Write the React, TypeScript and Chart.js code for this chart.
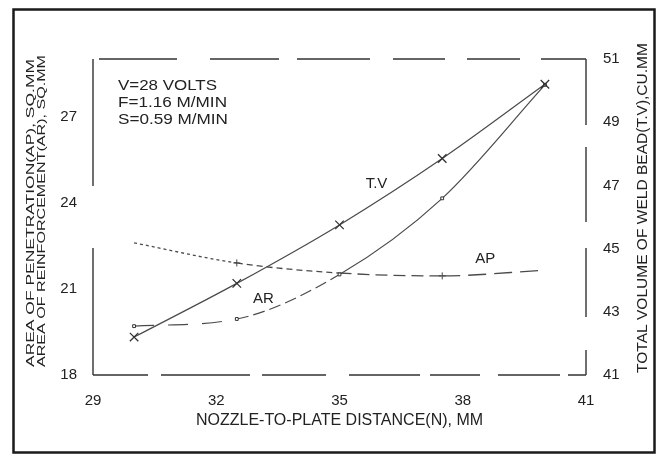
import React, { useEffect, useRef } from 'react';
import { Chart, registerables } from 'chart.js';
Chart.register(...registerables);

// ---- data ----
const distances = [30, 32.5, 35, 37.5, 40];
const tvValues = [42.2, 43.9, 45.75, 47.85, 50.2];
const arValues = [19.7, 19.95, 21.5, 24.15, 28.1];
const apValues = [22.6, 21.9, 21.55, 21.45, 21.65];
const xTicks = [29, 32, 35, 38, 41];
const leftTicks = [18, 21, 24, 27];
const rightTicks = [41, 43, 45, 47, 49, 51];
const conditionLines = ['V=28 VOLTS', 'F=1.16 M/MIN', 'S=0.59 M/MIN'];
const leftTitleLines = ['AREA OF PENETRATION(AP), SQ.MM', 'AREA OF REINFORCEMENT(AR), SQ.MM'];
const rightTitle = 'TOTAL VOLUME OF WELD BEAD(T.V),CU.MM';
const xTitle = 'NOZZLE-TO-PLATE DISTANCE(N), MM';
const curveLabels = [
  { text: 'T.V', x: 35.9, y: 47.05, axis: 'y1' },
  { text: 'AR', x: 33.15, y: 20.65, axis: 'y' },
  { text: 'AP', x: 38.55, y: 22.05, axis: 'y' },
];

const FONT = '"Liberation Sans", Arial, Helvetica, sans-serif';
const INK = '#222';
const LINE = '#4a4a4a';

function drawFit(ctx: CanvasRenderingContext2D, text: string, cx: number, cy: number, len: number, px: number, rot: number, align: CanvasTextAlign = 'center') {
  ctx.save();
  ctx.translate(cx, cy);
  ctx.rotate(rot);
  ctx.font = `${px}px ${FONT}`;
  const w = ctx.measureText(text).width;
  ctx.scale(len / w, 1);
  ctx.textAlign = align;
  ctx.textBaseline = 'middle';
  ctx.fillStyle = INK;
  ctx.fillText(text, 0, 0);
  ctx.restore();
}

function dashedLine(ctx: CanvasRenderingContext2D, x1: number, y1: number, x2: number, y2: number, dash: number[]) {
  ctx.save();
  ctx.strokeStyle = '#333';
  ctx.lineWidth = 1.4;
  ctx.setLineDash(dash);
  ctx.beginPath();
  ctx.moveTo(x1, y1);
  ctx.lineTo(x2, y2);
  ctx.stroke();
  ctx.restore();
}

const decorPlugin = {
  id: 'decor',
  beforeDatasetsDraw(chart: any) {
    const ctx: CanvasRenderingContext2D = chart.ctx;
    const { left, right, top, bottom } = chart.chartArea;
    // broken (dashed) plot frame as in the scanned figure
    dashedLine(ctx, left, top, right, top, [0, 6, 78, 33, 69, 18, 73, 23, 52, 22, 53, 21, 45, 4]);
    dashedLine(ctx, left, bottom, right, bottom, [55, 13, 89, 12, 64, 23, 71, 10, 50, 18, 62, 8, 20, 2]);
    dashedLine(ctx, left, top, left, bottom, [127, 62, 130, 60]);
    dashedLine(ctx, right, top, right, bottom, [66, 22, 75, 26, 69, 33, 40, 10]);
  },
  afterDraw(chart: any) {
    const ctx: CanvasRenderingContext2D = chart.ctx;
    // outer frame
    ctx.save();
    ctx.strokeStyle = '#1a1a1a';
    ctx.lineWidth = 2.5;
    ctx.strokeRect(13.5, 9.5, 641, 443);
    ctx.restore();
    // axis titles (left two lines, right one), bottom-to-top reading
    drawFit(ctx, leftTitleLines[0], 31.2, 213, 308, 11.5, -Math.PI / 2);
    drawFit(ctx, leftTitleLines[1], 42.2, 211, 312, 11.5, -Math.PI / 2);
    drawFit(ctx, rightTitle, 643, 208, 330, 15, -Math.PI / 2);
    // condition annotations
    const widths = [99, 109, 110];
    const ys = [86, 103, 120];
    conditionLines.forEach((t, i) => drawFit(ctx, t, 118, ys[i], widths[i], 14, 0, 'left'));
    // curve labels
    const xs = chart.scales.x;
    curveLabels.forEach((l) => {
      const ys2 = chart.scales[l.axis];
      ctx.save();
      ctx.font = `15px ${FONT}`;
      ctx.fillStyle = INK;
      ctx.textAlign = 'center';
      ctx.textBaseline = 'middle';
      ctx.fillText(l.text, xs.getPixelForValue(l.x), ys2.getPixelForValue(l.y));
      ctx.restore();
    });
  },
};

const tickFont = { family: FONT, size: 15 };

export default function App() {
  const ref = useRef<HTMLCanvasElement | null>(null);
  useEffect(() => {
    if (!ref.current) return;
    const pts = (vals: number[]) => distances.map((x, i) => ({ x, y: vals[i] }));
    const apDash = [[3, 3], [6, 4], [12, 6], [18, 8]];
    const arDash = [[20, 14], [12, 5], [], []];
    const chart = new Chart(ref.current, {
      type: 'line',
      data: {
        datasets: [
          {
            label: 'T.V',
            data: pts(tvValues),
            yAxisID: 'y1',
            borderColor: LINE,
            borderWidth: 1.2,
            pointStyle: 'crossRot',
            pointRadius: 6,
            pointBorderColor: '#333',
            pointBorderWidth: 1.3,
            cubicInterpolationMode: 'monotone',
          },
          {
            label: 'AR',
            data: pts(arValues),
            yAxisID: 'y',
            borderColor: LINE,
            borderWidth: 1.2,
            pointStyle: 'rect',
            pointRadius: 2,
            pointBackgroundColor: '#fff',
            pointBorderColor: '#333',
            pointBorderWidth: 1,
            cubicInterpolationMode: 'monotone',
            segment: { borderDash: (c: any) => arDash[c.p0DataIndex] },
          },
          {
            label: 'AP',
            data: pts(apValues),
            yAxisID: 'y',
            borderColor: LINE,
            borderWidth: 1.3,
            pointStyle: 'cross',
            pointRadius: [0, 3.5, 0, 3.5, 0],
            pointBorderColor: '#444',
            pointBorderWidth: 1,
            cubicInterpolationMode: 'monotone',
            segment: { borderDash: (c: any) => apDash[c.p0DataIndex] },
          },
        ],
      },
      options: {
        responsive: false,
        animation: false,
        events: [],
        layout: { padding: { top: 59, left: 0, right: 0, bottom: 0 } },
        plugins: { legend: { display: false }, tooltip: { enabled: false } },
        scales: {
          x: {
            type: 'linear',
            position: 'bottom',
            min: 29,
            max: 41,
            afterBuildTicks: (s: any) => { s.ticks = xTicks.map((v) => ({ value: v })); },
            afterFit: (s: any) => { s.height = 85; },
            ticks: { font: tickFont, color: INK, padding: 17 },
            grid: { display: false, drawTicks: false },
            border: { display: false },
            title: { display: true, text: xTitle, font: { family: FONT, size: 16 }, color: INK, padding: { top: 0, bottom: 30 } },
          },
          y: {
            type: 'linear',
            position: 'left',
            min: 18,
            max: 29,
            afterBuildTicks: (s: any) => { s.ticks = leftTicks.map((v) => ({ value: v })); },
            afterFit: (s: any) => { s.width = 93; },
            ticks: { font: tickFont, color: INK, padding: 16 },
            grid: { display: false, drawTicks: false },
            border: { display: false },
          },
          y1: {
            type: 'linear',
            position: 'right',
            min: 41,
            max: 51,
            afterBuildTicks: (s: any) => { s.ticks = rightTicks.map((v) => ({ value: v })); },
            afterFit: (s: any) => { s.width = 71; },
            ticks: { font: tickFont, color: INK, padding: 17 },
            grid: { display: false, drawTicks: false },
            border: { display: false },
          },
        },
      } as any,
      plugins: [decorPlugin],
    });
    return () => chart.destroy();
  }, []);
  return (
    <div style={{ position: 'absolute', left: 0, top: 0, width: 657, height: 460, background: '#fff' }}>
      <canvas ref={ref} width={657} height={460} style={{ display: 'block' }} />
    </div>
  );
}
